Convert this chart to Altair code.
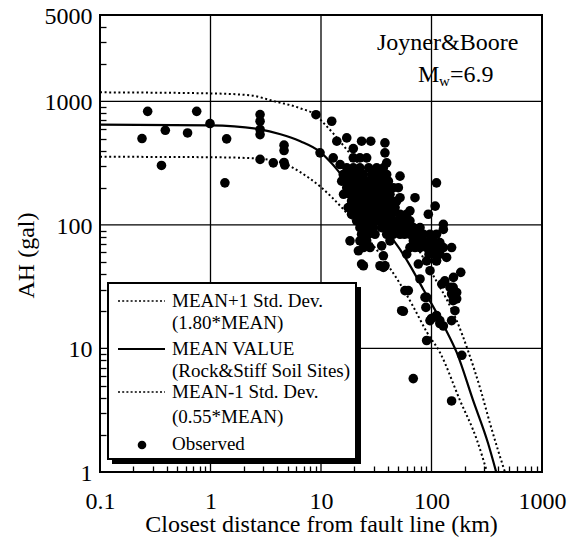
import altair as alt
import pandas as pd

# ---------------- data ----------------
# MEAN VALUE curve (Rock & Stiff Soil Sites)
mean_dist = [0.1, 1.0, 2.8, 4.3, 6.5, 9.8, 12.9, 15.8, 18.3, 25, 34.2, 40.7, 54, 63.8, 84.4, 111, 137, 169, 238, 325, 385]
mean_acc = [649, 640, 594, 542, 475, 390, 305, 245, 210, 150, 104, 85, 60, 47, 30, 19.5, 13.8, 9.3, 3.8, 1.71, 1.0]

# MEAN + 1 Std. Dev. (1.80*MEAN)
upper_dist = [0.1, 1.0, 2.3, 3.8, 6.5, 9.2, 10.2, 12.9, 18.3, 25, 34.2, 54, 84.4, 111, 137, 169, 214, 279, 338, 400, 462]
upper_acc = [1183, 1160, 1118, 1000, 878, 760, 690, 550, 378, 270, 187, 108, 54, 35, 25, 16.8, 9.6, 4.58, 2.48, 1.5, 1.0]

# MEAN - 1 Std. Dev. (0.55*MEAN)
lower_dist = [0.1, 1.0, 2.3, 4.3, 6.5, 9.8, 15.8, 25, 39.5, 51.9, 68, 91, 119, 181, 258, 318]
lower_acc = [356, 353, 347, 322, 267, 205, 135, 83, 48.4, 33.4, 22, 13.5, 9.3, 3.8, 1.81, 1.0]

# Observed records: scattered points
obs_dist = [0.24, 0.27, 0.36, 0.39, 0.62, 0.75, 0.99, 1.40, 1.35, 2.81, 2.81, 2.81, 2.81, 2.81, 3.70, 4.63, 4.63, 4.63, 4.70,
            9.0, 12.5, 13.9, 17.1, 23.3, 28.2, 37.9, 37.9, 39.3, 19.6, 12.9, 9.8, 14.9, 51.9, 50.1, 51.9, 70.9, 111, 108, 93.6,
            128, 128, 63.8, 18.3, 21.8, 23.3, 35.4, 36.7, 37.9, 34.2, 59.6, 76.0, 96.9, 124, 158, 184, 152, 169, 163, 152,
            61.7, 55.6, 87.3, 89, 96.9, 119, 90.4, 188, 152, 119, 76.0, 81.5, 108, 111, 137,
            147, 169, 157, 111, 119, 78.7, 57.5, 24.2, 36.7, 132, 157, 163, 128, 152, 68.4, 53.7, 100, 90.4]
obs_acc = [500, 830, 303, 583, 555, 830, 661, 497, 219, 782, 690, 592, 538, 339, 318, 442, 400, 320, 305,
           780, 690, 476, 506, 476, 476, 461, 383, 318, 415, 349, 383, 308, 248, 200, 166, 166, 219, 142, 122,
           101, 92, 130, 74.3, 61.7, 48.2, 67.7, 56.2, 46.7, 46.7, 58.0, 48.2, 42.6, 33.2, 37.6, 41.3, 27.6, 25.2, 20.2, 16.8,
           29.4, 20.0, 25.9, 21.5, 16.8, 16.8, 11.6, 8.8, 65.6, 72, 74.3, 84, 61.7, 51.2, 54.5,
           31.2, 28.4, 24.4, 18.5, 15.9, 36.5, 29.4, 46.7, 45.3, 35.3, 31.2, 27.6, 15.2, 3.76, 5.7, 20.2, 17.5, 25.9]

# Observed records: dense cluster (acceleration level, distances at that level)
core_acc = [349, 290, 256, 226, 200, 177, 156, 138, 122, 108, 95, 84, 74.3, 65.6, 58, 51.2]
core_dist = [
    [19.6, 22.5, 25.9],
    [17.1, 19.6, 22.5, 27.0, 31.9, 36.7],
    [15.9, 18.3, 21.0, 24.2, 29.0, 34.2, 39.3],
    [15.4, 17.7, 20.3, 23.3, 26.8, 30.8, 35.4, 40.7],
    [17.1, 19.6, 22.5, 25.9, 29.8, 34.2, 39.3, 45.2],
    [16.0, 18.3, 21.0, 24.2, 27.8, 31.9, 36.7, 42.1],
    [18.9, 21.8, 25.0, 28.7, 33.0, 37.9, 43.6, 48.4],
    [17.6, 20.3, 23.3, 26.8, 30.8, 35.4, 40.7, 46.8],
    [18.9, 21.8, 25.0, 28.7, 33.0, 37.9, 43.6, 51.9, 59.6],
    [21.0, 24.2, 27.8, 31.9, 36.7, 42.1, 48.4, 55.6, 63.8],
    [22.5, 25.9, 29.8, 35.4, 40.0, 45.2, 51.9, 59.6, 68.5, 78.7],
    [23.3, 26.8, 30.8, 39.3, 45.0, 51.9, 57.0, 63.8, 73.4, 84.4, 96.9, 111],
    [22.5, 25.9, 42.1, 68.5, 76.0, 84.4, 96.9, 104],
    [24.2, 27.8, 63.8, 71.0, 78.7, 90.4, 100, 111, 128],
    [95, 104, 119],
    [90.4, 111],
]

x_ticks = [0.1, 1, 10, 100, 1000]
y_ticks = [1, 10, 100, 1000, 5000]
x_grid = [1, 10, 100]
y_grid = [10, 100, 1000]
x_minor = [0.2, 0.3, 0.4, 0.5, 0.6, 0.7, 0.8, 0.9, 2, 3, 4, 5, 6, 7, 8, 9,
           20, 30, 40, 50, 60, 70, 80, 90, 200, 300, 400, 500, 600, 700, 800, 900]
y_minor = [2, 3, 4, 5, 6, 7, 8, 9, 20, 30, 40, 50, 60, 70, 80, 90,
           200, 300, 400, 500, 600, 700, 800, 900, 2000, 3000, 4000]

legend_lines = ["MEAN+1 Std. Dev.", "(1.80*MEAN)", "MEAN VALUE", "(Rock&Stiff Soil Sites)",
                "MEAN-1 Std. Dev.", "(0.55*MEAN)", "Observed"]

# ---------------- build tables ----------------
mean_df = pd.DataFrame({"d": mean_dist, "a": mean_acc})
upper_df = pd.DataFrame({"d": upper_dist, "a": upper_acc})
lower_df = pd.DataFrame({"d": lower_dist, "a": lower_acc})
cd, ca = [], []
for lvl, ds in zip(core_acc, core_dist):
    for d in ds:
        cd.append(d)
        ca.append(lvl)
obs_df = pd.DataFrame({"d": obs_dist + cd, "a": obs_acc + ca})
xgrid_df = pd.DataFrame({"d": x_grid})
ygrid_df = pd.DataFrame({"a": y_grid})

FONT = "Liberation Serif"
W, H = 442, 457
TK = 6

xs = alt.Scale(type="log", domain=[0.1, 1000], nice=False)
ys = alt.Scale(type="log", domain=[1, 5000], nice=False)

x_major_test = "indexof([0.1, 1, 10, 100, 1000], datum.value) >= 0"
y_major_test = "indexof([1, 10, 100, 1000, 5000], datum.value) >= 0"

# one axis per direction: labels on the decades, short inward ticks elsewhere; drawn above the marks
x_main = alt.Axis(values=sorted(x_ticks + x_minor), format="~g",
                  labelExpr=f"{x_major_test} ? datum.label : ''",
                  grid=False, zindex=1,
                  ticks=True, tickSize=TK, tickColor="black", tickWidth=1.3,
                  tickOpacity={"condition": {"test": x_major_test, "value": 0}, "value": 1},
                  offset=-TK, domain=False,
                  labelFont=FONT, labelFontSize=24, labelColor="black",
                  labelPadding=36, labelBaseline="alphabetic", labelFlush=False, labelOverlap=False,
                  title="Closest distance from fault line (km)", titleFont=FONT, titleFontSize=24,
                  titleFontWeight="normal", titleColor="black", titleBaseline="alphabetic",
                  titleX=221, titleY=59 + TK, titleAlign="center")
y_main = alt.Axis(values=sorted(y_ticks + y_minor), format="~g",
                  labelExpr=f"{y_major_test} ? datum.label : ''",
                  grid=False, zindex=1,
                  ticks=True, tickSize=TK, tickColor="black", tickWidth=1.3,
                  tickOpacity={"condition": {"test": y_major_test, "value": 0}, "value": 1},
                  offset=-TK, domain=False,
                  labelFont=FONT, labelFontSize=24, labelColor="black",
                  labelPadding=8, labelFlush=False, labelOverlap=False, labelOffset=1.5,
                  title="AH (gal)", titleFont=FONT, titleFontSize=24, titleFontWeight="normal",
                  titleColor="black", titleAngle=270, titleBaseline="alphabetic", titleAlign="center",
                  titleX=-67 - TK, titleY=240)

X = alt.X("d:Q", scale=xs, axis=x_main)
Y = alt.Y("a:Q", scale=ys, axis=y_main)

# decade grid lines, drawn under the legend box
grid_v = alt.Chart(xgrid_df).mark_rule(color="black", strokeWidth=1.3).encode(x=X)
grid_h = alt.Chart(ygrid_df).mark_rule(color="black", strokeWidth=1.3).encode(y=Y)

dotted = dict(color="black", strokeWidth=2, strokeDash=[2, 2.6], strokeCap="butt", interpolate="monotone", clip=True)

mean_line = alt.Chart(mean_df).mark_line(color="black", strokeWidth=2.2, interpolate="monotone", clip=True).encode(x=X, y=Y)
upper_line = alt.Chart(upper_df).mark_line(**dotted).encode(x=X, y=Y)
lower_line = alt.Chart(lower_df).mark_line(**dotted).encode(x=X, y=Y)
points = alt.Chart(obs_df).mark_circle(size=92, color="black", opacity=1, clip=True).encode(x=X, y=Y)

# ---------------- legend box (drawn in pixel space) ----------------
one = pd.DataFrame({"k": [1]})
shadow = alt.Chart(one).mark_rect(color="black").encode(
    x=alt.value(12), x2=alt.value(261), y=alt.value(272), y2=alt.value(449))
box = alt.Chart(one).mark_rect(fill="white", stroke="black", strokeWidth=2).encode(
    x=alt.value(8), x2=alt.value(256), y=alt.value(268), y2=alt.value(444))
leg_up = alt.Chart(one).mark_rule(color="black", strokeWidth=1.6, strokeDash=[2, 2.2]).encode(
    x=alt.value(18), x2=alt.value(65), y=alt.value(286))
leg_mean = alt.Chart(one).mark_rule(color="black", strokeWidth=2).encode(
    x=alt.value(18), x2=alt.value(65), y=alt.value(334))
leg_low = alt.Chart(one).mark_rule(color="black", strokeWidth=1.6, strokeDash=[2, 2.2]).encode(
    x=alt.value(18), x2=alt.value(65), y=alt.value(377))
leg_dot = alt.Chart(one).mark_circle(size=75, color="black", opacity=1).encode(
    x=alt.value(42), y=alt.value(430))


def label(txt, x, y, size=19, align="left"):
    return alt.Chart(pd.DataFrame({"t": [txt]})).mark_text(
        font=FONT, fontSize=size, align=align, baseline="alphabetic", color="black").encode(
        x=alt.value(x), y=alt.value(y), text="t:N")


leg_ys = [292, 314, 340, 362, 383, 408, 435]
leg_texts = [label(t, 72, y) for t, y in zip(legend_lines, leg_ys)]

ann = [
    label("Joyner&Boore", 277, 35, size=24),
    label("M", 318, 67, size=24),
    label("w", 339, 71, size=15),
    label("=6.9", 350, 67, size=24),
]

chart = alt.layer(
    grid_v, grid_h, mean_line, upper_line, lower_line, points,
    shadow, box, leg_up, leg_mean, leg_low, leg_dot, *leg_texts, *ann
).properties(
    width=W, height=H,
    autosize=alt.AutoSizeParams(type="none"),
    padding={"left": 92, "top": 7, "right": 27, "bottom": 66},
).configure_view(stroke="black", strokeWidth=2)

chart.save("out.html", embed_options={"renderer": "svg", "actions": False})
